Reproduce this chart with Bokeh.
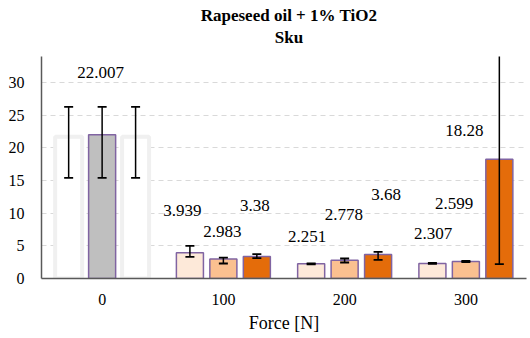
from bokeh.plotting import figure
from bokeh.models import Title, ColumnDataSource, FixedTicker
from bokeh.core.properties import value
from bokeh.embed import file_html
from bokeh.resources import INLINE

# ---- data ----
forces = ["0", "100", "200", "300"]
s1 = [21.7, 3.939, 2.251, 2.307]
s2 = [22.007, 2.983, 2.778, 2.599]
s3 = [21.7, 3.38, 3.68, 18.28]
s1_low = [15.4, 3.30, 2.17, 2.23]
s1_high = [26.3, 5.00, 2.33, 2.39]
s2_low = [15.4, 2.30, 2.45, 2.52]
s2_high = [26.3, 3.21, 3.06, 2.68]
s3_low = [15.4, 3.12, 2.86, 2.20]
s3_high = [26.3, 3.73, 4.08, 34.36]
s1_labels = ["", "3.939", "2.251", "2.307"]
s2_labels = ["22.007", "2.983", "2.778", "2.599"]
s3_labels = ["", "3.38", "3.68", "18.28"]
y_ticks = [0, 5, 10, 15, 20, 25, 30]
title_lines = ["Rapeseed oil + 1% TiO2", "Sku"]
x_title = "Force [N]"

# ---- styles / positions ----
FONT = "Liberation Serif"
AXIS_TOP = 34                     # top of the value axis
FRAME_PX, AXIS_PX = 278, 222      # frame height and axis length in pixels
Y_END = AXIS_TOP * FRAME_PX / AXIS_PX
title_dy = [15, 37]               # title line centres, px from the top
s1_colors = ["#ffffff", "#fde9d9", "#fde9d9", "#fde9d9"]
s2_colors = ["#bfbfbf", "#fac090", "#fac090", "#fac090"]
s3_colors = ["#ffffff", "#e46c0a", "#e46c0a", "#e46c0a"]
s1_lines = ["#f0f0f0", "#8064a2", "#8064a2", "#8064a2"]
s2_lines = ["#8064a2", "#8064a2", "#8064a2", "#8064a2"]
s3_lines = ["#f0f0f0", "#8064a2", "#8064a2", "#8064a2"]
s1_lw = [4, 1.5, 1.5, 1.5]
s2_lw = [1.5, 1.5, 1.5, 1.5]
s3_lw = [4, 1.5, 1.5, 1.5]
s1_dx = [0, -7.6, -4, 0.7]
s1_dy = [0, 42.6, 27, 30]
s2_dx = [-1.5, -1, -0.7, -11.7]
s2_dy = [62, 27.5, 46, 58]
s3_dx = [0, -2, 8, -35]
s3_dy = [0, 50.6, 59.6, 29]
offsets = [-0.276, 0.0, 0.276]
bar_w = 0.223

p = figure(width=530, height=338, output_backend="svg", toolbar_location=None,
           x_range=(-0.5, 3.5), y_range=(0, Y_END),
           min_border_left=41, min_border_right=4, min_border_top=0, min_border_bottom=60)
p.outline_line_color = None
p.background_fill_color = "white"
p.border_fill_color = "white"

# title lines (drawn in the empty band above the value axis)
p.text(x=[1.5, 1.5], y=[Y_END, Y_END], text=title_lines, x_offset=5, y_offset=title_dy,
       text_align="center", text_baseline="middle", text_font=value(FONT),
       text_font_size="17px", text_font_style="bold", text_color="#000000")

p.add_layout(Title(text=x_title, align="center", vertical_align="bottom", text_font=FONT,
                   text_font_size="18px", text_font_style="normal", text_color="#000000",
                   offset=13, standoff=6), "below")

xs = list(range(len(forces)))
series = [
    (s1, s1_low, s1_high, s1_labels, s1_colors, s1_lines, s1_lw, s1_dx, s1_dy),
    (s2, s2_low, s2_high, s2_labels, s2_colors, s2_lines, s2_lw, s2_dx, s2_dy),
    (s3, s3_low, s3_high, s3_labels, s3_colors, s3_lines, s3_lw, s3_dx, s3_dy),
]
for k, (vals, lo, hi, labs, cols, lcols, lws, dx, dy) in enumerate(series):
    bx = [x + offsets[k] for x in xs]
    src = ColumnDataSource(dict(
        x=bx, top=vals, lo=lo, hi=[min(h, AXIS_TOP) for h in hi], lab=labs,
        fill=cols, line=lcols, lw=lws, dx=dx, ndy=[-d for d in dy]))
    p.vbar(x="x", top="top", width=bar_w, bottom=0, source=src,
           fill_color="fill", line_color="line", line_width="lw")
    p.segment(x0="x", y0="lo", x1="x", y1="hi", source=src, line_color="black", line_width=1.5)
    p.dash(x="x", y="lo", size=9, line_color="black", line_width=1.8, source=src)
    caps_x = [x for x, h in zip(bx, hi) if h <= AXIS_TOP]
    caps_y = [h for h in hi if h <= AXIS_TOP]
    p.dash(x=caps_x, y=caps_y, size=9, line_color="black", line_width=1.8)
    p.text(x="x", y="top", text="lab", x_offset="dx", y_offset="ndy", source=src,
           text_align="center", text_baseline="middle", text_font=value(FONT),
           text_font_size="17px", text_color="#000000")

p.xaxis.ticker = FixedTicker(ticks=xs)
p.xaxis.major_label_overrides = {i: f for i, f in enumerate(forces)}
p.yaxis.ticker = FixedTicker(ticks=y_ticks)
p.yaxis.bounds = (0, AXIS_TOP)

for ax in (p.xaxis[0], p.yaxis[0]):
    ax.axis_line_color = "#595959"
    ax.axis_line_width = 1.5
    ax.major_tick_line_color = None
    ax.minor_tick_line_color = None
    ax.major_label_text_font = FONT
    ax.major_label_text_font_size = "16px"
    ax.major_label_text_color = "#000000"
p.yaxis.major_label_standoff = 11
p.xaxis.major_label_standoff = 9

p.xgrid.grid_line_color = None
p.ygrid.grid_line_color = "#d9d9d9"
p.ygrid.grid_line_dash = "5 4"
p.ygrid.grid_line_width = 1

open("out.html", "w").write(file_html(p, INLINE))
